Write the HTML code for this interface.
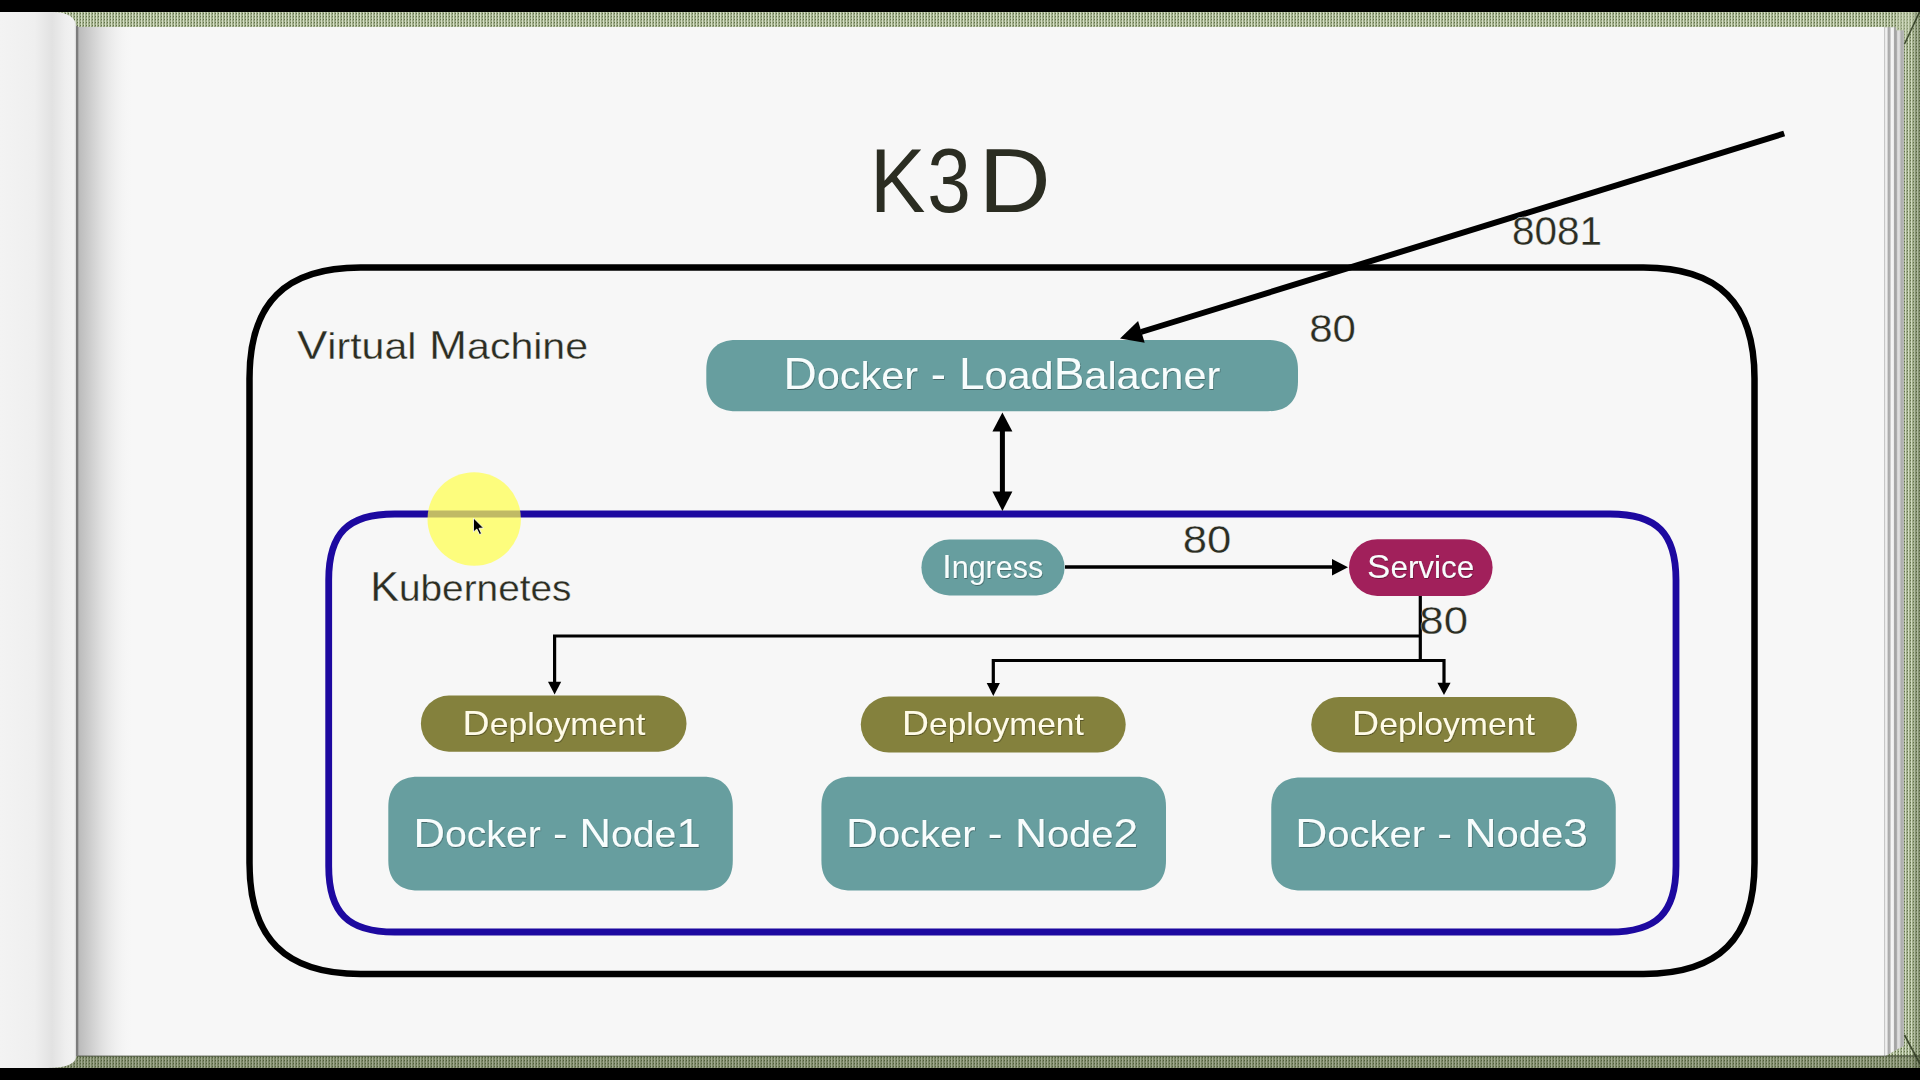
<!DOCTYPE html>
<html><head><meta charset="utf-8"><title>K3D</title>
<style>
html,body{margin:0;padding:0;width:1920px;height:1080px;overflow:hidden;background:#000;}
#stage{position:absolute;left:0;top:0;width:1920px;height:1080px;}
svg{position:absolute;left:0;top:0;}
text{font-family:"Liberation Sans",sans-serif;}
</style></head>
<body>
<div id="stage">
<svg width="1920" height="1080" viewBox="0 0 1920 1080">
<defs>
  <pattern id="cloth" width="3" height="3" patternUnits="userSpaceOnUse">
    <rect width="3" height="3" fill="#a3b08d"/>
    <rect x="0" y="0" width="1" height="3" fill="#d4dec3"/>
    <rect x="2" y="1" width="1" height="1" fill="#617149"/>
    <rect x="1" y="2" width="2" height="1" fill="#96a480"/>
  </pattern>
  <linearGradient id="curl" x1="0" x2="1" y1="0" y2="0">
    <stop offset="0" stop-color="#f3f3f3"/>
    <stop offset="0.45" stop-color="#efefef"/>
    <stop offset="0.68" stop-color="#e2e2e2"/>
    <stop offset="0.85" stop-color="#eeeeee"/>
    <stop offset="0.97" stop-color="#f3f3f3"/>
    <stop offset="1" stop-color="#d0d0d0"/>
  </linearGradient>
  <linearGradient id="pshadow" x1="0" x2="1" y1="0" y2="0">
    <stop offset="0" stop-color="#7a7a7a"/>
    <stop offset="0.04" stop-color="#bcbcbc"/>
    <stop offset="0.4" stop-color="#dcdcdc"/>
    <stop offset="1" stop-color="#f3f3f3" stop-opacity="0"/>
  </linearGradient>
  <linearGradient id="edges" x1="0" x2="1" y1="0" y2="0">
    <stop offset="0" stop-color="#b5b5b5"/>
    <stop offset="0.08" stop-color="#eeeeee"/>
    <stop offset="0.15" stop-color="#f0f0f0"/>
    <stop offset="0.21" stop-color="#aaaaaa"/>
    <stop offset="0.3" stop-color="#b2b2b2"/>
    <stop offset="0.36" stop-color="#f4f4f4"/>
    <stop offset="0.47" stop-color="#f2f2f2"/>
    <stop offset="0.53" stop-color="#a0a0a0"/>
    <stop offset="0.62" stop-color="#a8a8a8"/>
    <stop offset="0.69" stop-color="#e2e2e2"/>
    <stop offset="0.78" stop-color="#d8d8d8"/>
    <stop offset="0.86" stop-color="#ababab"/>
    <stop offset="1" stop-color="#bbbbbb"/>
  </linearGradient>
  <filter id="ts" x="-5%" y="-20%" width="110%" height="140%">
    <feDropShadow dx="0.6" dy="1" stdDeviation="0.7" flood-color="#000" flood-opacity="0.35"/>
  </filter>
  
</defs>

<!-- cloth border -->
<rect x="0" y="12" width="1920" height="1056" fill="url(#cloth)"/>
<rect x="0" y="1055" width="1920" height="13" fill="#2a3318" fill-opacity="0.3"/>
<!-- main page -->
<rect x="77" y="27" width="1807" height="1029" fill="#f7f7f7"/>
<rect x="77" y="27" width="55" height="1029" fill="url(#pshadow)"/>
<!-- page edges on right -->
<path d="M1884,27.3 L1896,27.3 L1896,30.2 L1904,30.2 L1904,1046 L1896,1050 L1884,1057 Z" fill="url(#edges)"/>
<!-- cover corner folds -->
<path d="M1896,12 L1919.5,12 L1904.5,44 L1904,44 L1904,30.2 L1896,30.2 Z" fill="#c6d1b2" fill-opacity="0.35"/>
<line x1="1919.5" y1="12" x2="1904.5" y2="44" stroke="#3f4a30" stroke-width="1.6"/>
<line x1="1904.5" y1="1035" x2="1920" y2="1064" stroke="#3f4a30" stroke-width="1.6"/>
<rect x="1914" y="12" width="6" height="1056" fill="#1e2612" fill-opacity="0.18"/>
<rect x="1884" y="1055.5" width="36" height="1.2" fill="#2a3020" fill-opacity="0.6"/>
<rect x="77" y="1055.5" width="1807" height="1.2" fill="#2a3020" fill-opacity="0.6"/>
<!-- left curl -->
<path d="M0,12 L52,12 Q76.5,12 76.5,29 L76.5,1055 Q76.5,1068 47,1068 L0,1068 Z" fill="url(#curl)"/>
<rect x="76" y="26" width="2" height="1030" fill="#7d7d7d"/>

<!-- title -->
<text id="t_k" x="869.96" y="212" textLength="55.39" lengthAdjust="spacingAndGlyphs" font-size="91" fill="#2b2d22">K</text>
<text id="t_3" x="927.28" y="212" textLength="43.59" lengthAdjust="spacingAndGlyphs" font-size="91" fill="#2b2d22">3</text>
<text id="t_d" x="978.55" y="212" textLength="72.29" lengthAdjust="spacingAndGlyphs" font-size="91" fill="#2b2d22">D</text>

<!-- VM box -->
<path d="M360.5,267.5 H1643.5 C1718.98,267.5 1754.5,303.02 1754.5,378.5 V862.9 C1754.5,938.38 1718.98,973.9 1643.5,973.9 H360.5 C285.02,973.9 249.5,938.38 249.5,862.9 V378.5 C249.5,303.02 285.02,267.5 360.5,267.5 Z" fill="none" stroke="#000" stroke-width="6.5"/>
<text id="t_vm" stroke="#f7f7f7" stroke-width="0.3" x="296.93" y="359.4" textLength="291.13" lengthAdjust="spacingAndGlyphs" font-size="40" fill="#2b2d22">V<tspan font-size="36.00">irtual</tspan> M<tspan font-size="36.00">achine</tspan></text>

<!-- K8s box -->
<path d="M394.7,514 H1610 C1656.86,514 1676,533.14 1676,580 V866 C1676,912.86 1656.86,932 1610,932 H394.7 C347.84,932 328.7,912.86 328.7,866 V580 C328.7,533.14 347.84,514 394.7,514 Z" fill="none" stroke="#1d09a0" stroke-width="6.8"/>
<text id="t_kube" stroke="#f7f7f7" stroke-width="0.3" x="370.22" y="600.6" textLength="201.28" lengthAdjust="spacingAndGlyphs" font-size="42" fill="#2b2d22">K<tspan font-size="37.80">ubernetes</tspan></text>

<!-- LB -->
<path d="M736.3,339.9 H1268 C1287.5,339.9 1298,350.4 1298,369.9 V381.2 C1298,400.7 1287.5,411.2 1268,411.2 H736.3 C716.8,411.2 706.3,400.7 706.3,381.2 V369.9 C706.3,350.4 716.8,339.9 736.3,339.9 Z" fill="#679e9f"/>
<text id="t_lb" filter="url(#ts)" x="783.47" y="389" textLength="436.76" lengthAdjust="spacingAndGlyphs" font-size="43.6" fill="#f8fdfd">D<tspan font-size="39.24">ocker</tspan> - L<tspan font-size="39.24">oad</tspan>B<tspan font-size="39.24">alacner</tspan></text>

<!-- external diagonal arrow -->
<line x1="1784.2" y1="133.5" x2="1141" y2="332" stroke="#000" stroke-width="6"/>
<path d="M1120,338.4 L1138.1,320.9 L1144.7,342.8 Z" fill="#000"/>
<text id="t_8081" stroke="#f7f7f7" stroke-width="0.3" x="1511.98" y="245" textLength="90.05" lengthAdjust="spacingAndGlyphs" font-size="40" fill="#2b2d22">8081</text>
<text id="t_80lb" stroke="#f7f7f7" stroke-width="0.3" x="1309.27" y="342" textLength="46.72" lengthAdjust="spacingAndGlyphs" font-size="38" fill="#2b2d22">80</text>

<!-- double arrow -->
<rect x="999.9" y="428" width="5" height="66" fill="#000"/>
<path d="M1002.4,412.6 L1012.4,431.6 L992.4,431.6 Z" fill="#000"/>
<path d="M1002.4,511 L1012.4,491.6 L992.4,491.6 Z" fill="#000"/>

<!-- Ingress / Service -->
<rect x="921.4" y="539.5" width="143.2" height="56" rx="28" fill="#679e9f"/>
<text id="t_ing" filter="url(#ts)" x="942.29" y="578.2" textLength="100.83" lengthAdjust="spacingAndGlyphs" font-size="34" fill="#f8fdfd">I<tspan font-size="30.60">ngress</tspan></text>
<rect x="1349" y="539.2" width="143.6" height="56.7" rx="28.3" fill="#a1205b"/>
<text id="t_svc" filter="url(#ts)" x="1367.10" y="577.8" textLength="107.21" lengthAdjust="spacingAndGlyphs" font-size="34" fill="#f8fdfd">S<tspan font-size="30.60">ervice</tspan></text>
<line x1="1065" y1="567" x2="1333" y2="567" stroke="#000" stroke-width="3.5"/>
<path d="M1348,567.2 L1332,558.9 L1332,575.5 Z" fill="#000"/>
<text id="t_80ing" stroke="#f7f7f7" stroke-width="0.3" x="1182.71" y="553.4" textLength="48.58" lengthAdjust="spacingAndGlyphs" font-size="38" fill="#2b2d22">80</text>

<!-- Service fan out -->
<line x1="1420.3" y1="596" x2="1420.3" y2="662" stroke="#000" stroke-width="3.2"/>
<text id="t_80svc" stroke="#f7f7f7" stroke-width="0.3" x="1419.34" y="634.3" textLength="48.68" lengthAdjust="spacingAndGlyphs" font-size="38" fill="#2b2d22">80</text>
<polyline points="1420.3,636 554.6,636 554.6,684" fill="none" stroke="#000" stroke-width="3.2"/>
<path d="M554.6,694.6 L548,681.7 L561.2,681.7 Z" fill="#000"/>
<polyline points="993.3,684 993.3,660.5 1444,660.5 1444,684" fill="none" stroke="#000" stroke-width="3.2"/>
<path d="M993.3,696 L986.7,683 L999.9,683 Z" fill="#000"/>
<path d="M1444,695 L1437.4,682.7 L1450.6,682.7 Z" fill="#000"/>

<!-- Deployments -->
<rect x="420.9" y="695.5" width="265.6" height="56.2" rx="28" fill="#84813d"/>
<text id="t_dep1" filter="url(#ts)" x="462.63" y="734.5" textLength="182.70" lengthAdjust="spacingAndGlyphs" font-size="35.6" fill="#fffbe8">D<tspan font-size="32.04">eployment</tspan></text>
<rect x="860.8" y="696.6" width="264.9" height="56" rx="28" fill="#84813d"/>
<text id="t_dep2" filter="url(#ts)" x="902.12" y="735" textLength="181.70" lengthAdjust="spacingAndGlyphs" font-size="35.6" fill="#fffbe8">D<tspan font-size="32.04">eployment</tspan></text>
<rect x="1311.25" y="697" width="265.75" height="55.5" rx="28" fill="#84813d"/>
<text id="t_dep3" filter="url(#ts)" x="1352.11" y="735" textLength="182.70" lengthAdjust="spacingAndGlyphs" font-size="35.6" fill="#fffbe8">D<tspan font-size="32.04">eployment</tspan></text>

<!-- Nodes -->
<path d="M418.3,776.8 H702.8 C722.3,776.8 732.8,787.3 732.8,806.8 V860.6 C732.8,880.1 722.3,890.6 702.8,890.6 H418.3 C398.8,890.6 388.3,880.1 388.3,860.6 V806.8 C388.3,787.3 398.8,776.8 418.3,776.8 Z" fill="#679e9f"/>
<text id="t_n1" filter="url(#ts)" x="413.50" y="846.7" textLength="287.13" lengthAdjust="spacingAndGlyphs" font-size="41" fill="#f8fdfd">D<tspan font-size="36.90">ocker</tspan> - N<tspan font-size="36.90">ode</tspan>1</text>
<path d="M851.4,776.8 H1136 C1155.5,776.8 1166,787.3 1166,806.8 V860.4 C1166,879.9 1155.5,890.4 1136,890.4 H851.4 C831.9,890.4 821.4,879.9 821.4,860.4 V806.8 C821.4,787.3 831.9,776.8 851.4,776.8 Z" fill="#679e9f"/>
<text id="t_n2" filter="url(#ts)" x="845.92" y="846.7" textLength="292.24" lengthAdjust="spacingAndGlyphs" font-size="41" fill="#f8fdfd">D<tspan font-size="36.90">ocker</tspan> - N<tspan font-size="36.90">ode</tspan>2</text>
<path d="M1301.25,777.5 H1585.75 C1605.25,777.5 1615.75,788 1615.75,807.5 V860.5 C1615.75,880 1605.25,890.5 1585.75,890.5 H1301.25 C1281.75,890.5 1271.25,880 1271.25,860.5 V807.5 C1271.25,788 1281.75,777.5 1301.25,777.5 Z" fill="#679e9f"/>
<text id="t_n3" filter="url(#ts)" x="1295.20" y="846.7" textLength="292.70" lengthAdjust="spacingAndGlyphs" font-size="41" fill="#f8fdfd">D<tspan font-size="36.90">ocker</tspan> - N<tspan font-size="36.90">ode</tspan>3</text>

<!-- pointer highlight -->
<circle cx="474.2" cy="519" r="46.7" fill="#ffff4d" fill-opacity="0.72"/>
<path d="M473.5,518 L473.5,532 L476.8,529 L479.5,534.5 L481.5,533.5 L479,528.3 L483.5,528 Z" fill="#000" stroke="#fff" stroke-width="0.8"/>
</svg>
</div>
</body></html>
